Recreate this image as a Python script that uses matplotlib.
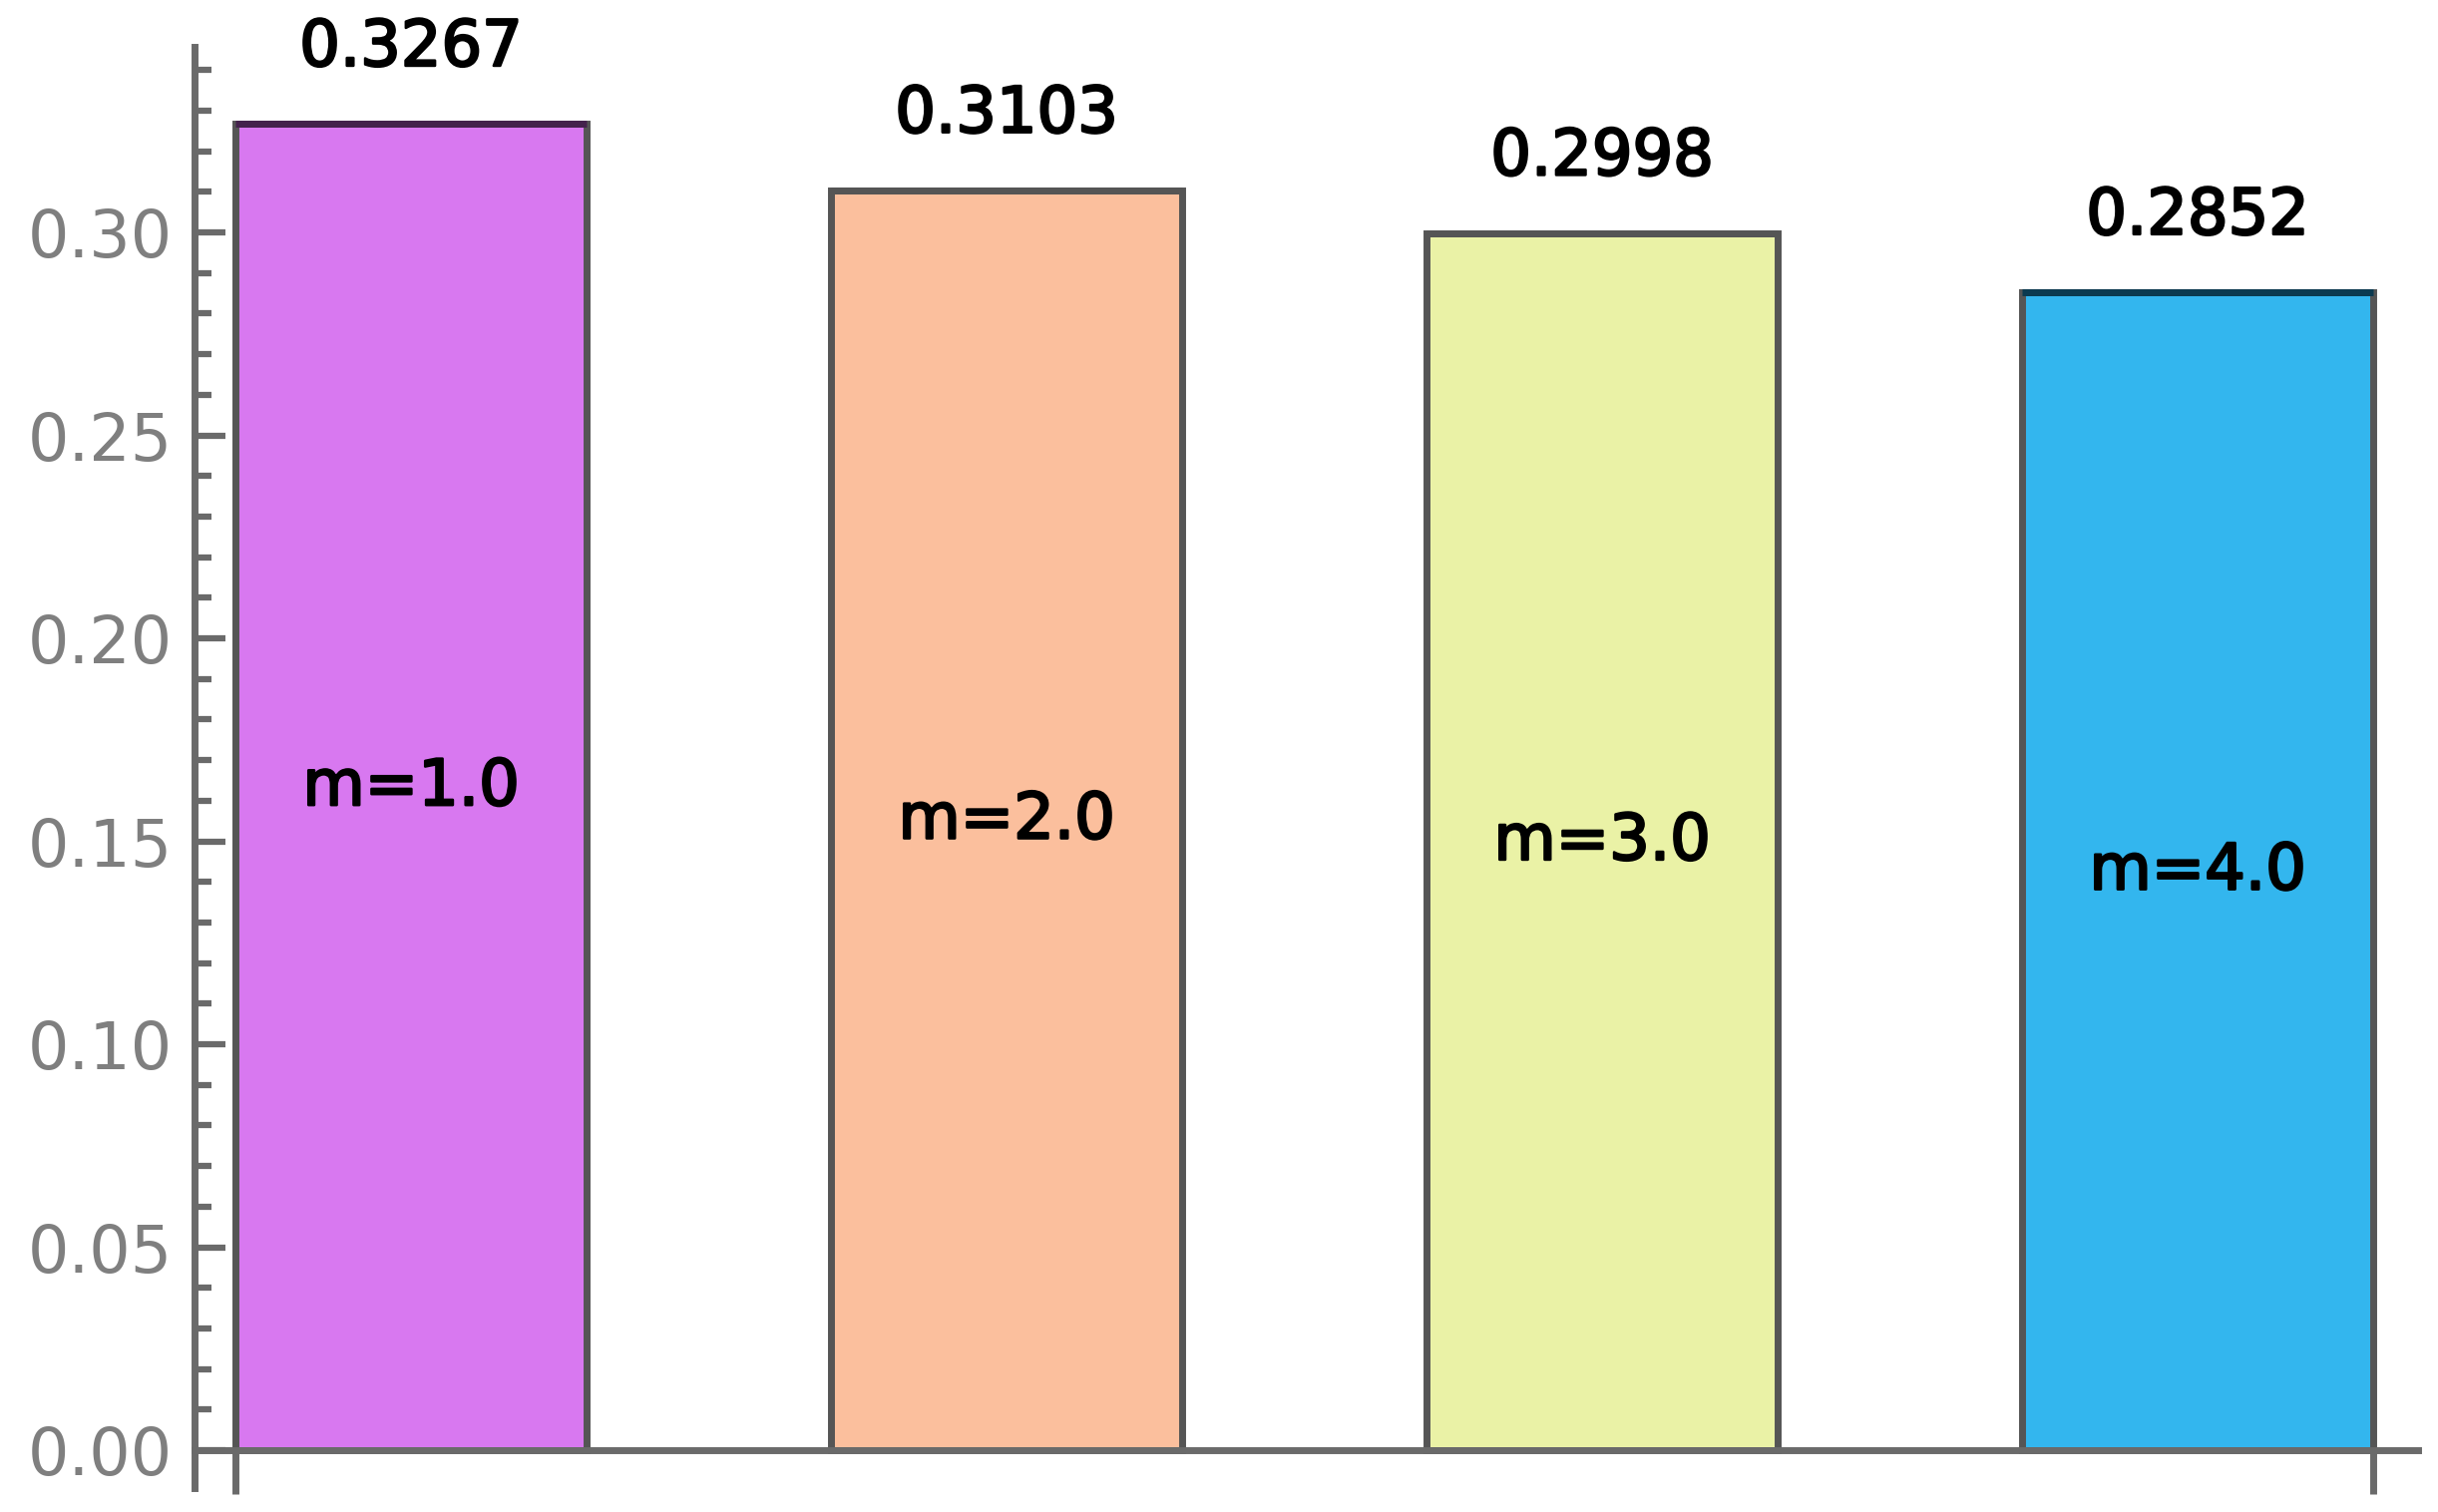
import matplotlib.pyplot as plt
import matplotlib.patheffects as pe
from matplotlib.ticker import MultipleLocator, FormatStrFormatter

labels = ['m=1.0', 'm=2.0', 'm=3.0', 'm=4.0']
values = [0.3267, 0.3103, 0.2998, 0.2852]
colors = ['#d878f0', '#fbbf9d', '#eaf2a6', '#33b6ee']
top_edges = ['#44224c', '#555555', '#555555', '#0b3a50']

axis_gray = '#6a6a6a'
width = 0.59

fig = plt.figure(figsize=(24.44, 15.16), dpi=100)
ax = fig.add_axes([0.0798, 0.0158, 0.912, 0.9532])

x = list(range(1, len(values) + 1))
bars = ax.bar(x, values, width=width, color=colors, edgecolor='#555555', linewidth=5)
# darker top edge on some bars, as in the original rendering
for b, c in zip(bars, top_edges):
    ax.plot([b.get_x(), b.get_x() + b.get_width()], [b.get_height()] * 2,
            color=c, lw=5, solid_capstyle='butt')

bold = [pe.withStroke(linewidth=1.8, foreground='black')]
for xi, v, lab in zip(x, values, labels):
    ax.annotate(f'{v:.4f}', (xi, v), xytext=(0, 55), textcoords='offset points',
                ha='center', va='center', fontsize=46, color='black', path_effects=bold)
    ax.text(xi, v / 2, lab, ha='center', va='center', fontsize=46,
            color='black', path_effects=bold)

ax.set_xlim(0.6365, 4.370)
ax.set_ylim(-0.00934, 0.3457)

for s in ['top', 'right']:
    ax.spines[s].set_visible(False)
ax.spines['bottom'].set_position(('data', 0))
for s in ['bottom', 'left']:
    ax.spines[s].set_color(axis_gray)
    ax.spines[s].set_linewidth(5)

ax.set_xticks([x[0] - width / 2, x[-1] + width / 2])
ax.set_xticklabels([])
ax.tick_params(axis='x', direction='out', length=32, width=5, color=axis_gray)

ax.yaxis.set_major_locator(MultipleLocator(0.05))
ax.yaxis.set_minor_locator(MultipleLocator(0.01))
ax.yaxis.set_major_formatter(FormatStrFormatter('%.2f'))
ax.tick_params(axis='y', which='major', direction='in', length=22, width=4.5,
               color=axis_gray, labelsize=47, labelcolor='#7f7f7f', pad=16)
ax.tick_params(axis='y', which='minor', direction='in', length=12, width=4.5,
               color=axis_gray)

fig.savefig('out.png', dpi=100)
